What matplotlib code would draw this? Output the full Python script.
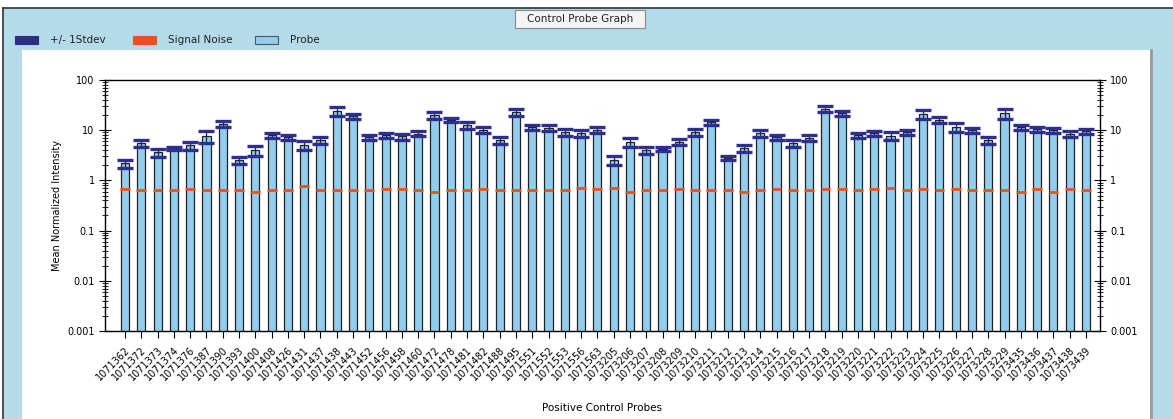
import matplotlib
matplotlib.use("Agg")
import matplotlib.pyplot as plt
import numpy as np
from matplotlib.patches import Rectangle
from matplotlib.lines import Line2D

probes = ["1071362", "1071372", "1071373", "1071374", "1071376", "1071387", "1071390", "1071393",
          "1071400", "1071408", "1071426", "1071431", "1071437", "1071438", "1071443", "1071452",
          "1071456", "1071458", "1071460", "1071472", "1071478", "1071481", "1071482", "1071488",
          "1071495", "1071551", "1071552", "1071553", "1071556", "1071563",
          "1073205", "1073206", "1073207", "1073208", "1073209", "1073210", "1073211", "1073212",
          "1073213", "1073214", "1073215", "1073216", "1073217", "1073218", "1073219", "1073220",
          "1073221", "1073222", "1073223", "1073224", "1073225", "1073226", "1073227", "1073228",
          "1073229", "1073435", "1073436", "1073437", "1073438", "1073439"]

probe_mean = [2.2, 5.5, 3.6, 4.4, 5.0, 7.5, 13.5, 2.5, 4.0, 7.9, 7.2, 5.0, 6.3, 24.0, 19.0, 7.2,
              7.9, 7.5, 8.5, 20.0, 16.0, 12.6, 10.0, 6.3, 23.0, 11.5, 11.0, 9.0, 8.7, 10.0,
              2.5, 5.8, 4.0, 4.2, 5.8, 9.1, 14.5, 2.8, 4.4, 8.7, 7.2, 5.5, 7.0, 27.0, 22.0, 8.0,
              8.7, 7.8, 9.0, 21.0, 16.0, 11.5, 10.0, 6.3, 22.0, 11.5, 10.5, 10.0, 8.5, 9.5]

probe_std = [0.4, 0.8, 0.7, 0.3, 0.9, 2.0, 1.8, 0.4, 0.9, 1.0, 0.9, 1.0, 1.0, 5.0, 2.5, 0.8,
             1.0, 1.0, 1.0, 3.5, 1.6, 2.0, 1.4, 1.0, 3.5, 1.2, 1.5, 1.4, 1.3, 1.4,
             0.5, 1.1, 0.6, 0.4, 0.8, 1.6, 1.6, 0.2, 0.7, 1.4, 0.7, 0.9, 0.9, 4.0, 2.5, 0.9,
             1.0, 1.3, 1.0, 4.0, 2.0, 2.3, 1.2, 1.1, 5.0, 1.4, 1.3, 1.3, 1.2, 1.1]

signal_noise = [0.67, 0.63, 0.63, 0.63, 0.68, 0.63, 0.63, 0.63, 0.58, 0.63, 0.63, 0.79, 0.63, 0.63,
                0.63, 0.63, 0.67, 0.67, 0.63, 0.58, 0.63, 0.63, 0.67, 0.63, 0.63, 0.63, 0.63, 0.63,
                0.70, 0.67, 0.70, 0.58, 0.63, 0.63, 0.67, 0.63, 0.63, 0.63, 0.58, 0.63, 0.67, 0.63,
                0.63, 0.67, 0.67, 0.63, 0.67, 0.70, 0.63, 0.67, 0.63, 0.67, 0.63, 0.63, 0.63, 0.58,
                0.67, 0.58, 0.67, 0.63]

W, H = 1173, 419
fig = plt.figure(figsize=(W / 100, H / 100), dpi=100)
fig.patch.set_facecolor("white")

def px(x0, y0, w, h):
    return (x0 / W, 1 - (y0 + h) / H, w / W, h / H)

lb = "#b3dbea"
x0, y0, w, h = px(3, 8, W - 3, H - 8)
fig.patches.append(Rectangle((x0, y0), w, h, transform=fig.transFigure, facecolor=lb, edgecolor="none", zorder=-10))
x0, y0, w, h = px(22, 50, 1128, H - 50)
fig.patches.append(Rectangle((x0, y0), w, h, transform=fig.transFigure, facecolor="white", edgecolor="none", zorder=-9))
fig.lines.append(Line2D([3 / W, 1], [1 - 8 / H, 1 - 8 / H], transform=fig.transFigure, color="#333333", lw=1.2, zorder=-8))
fig.lines.append(Line2D([3 / W, 3 / W], [0, 1 - 8 / H], transform=fig.transFigure, color="#333333", lw=1.2, zorder=-8))
fig.lines.append(Line2D([1151 / W, 1151 / W], [0, 1 - 50 / H], transform=fig.transFigure, color="#999999", lw=2, zorder=-8))

# title box
x0, y0, w, h = px(515, 10, 130, 18)
fig.patches.append(Rectangle((x0, y0), w, h, transform=fig.transFigure, facecolor="#f4f4f4", edgecolor="#888888", lw=0.8, zorder=1))
fig.text(580 / W, 1 - 19 / H, "Control Probe Graph", ha="center", va="center", fontsize=7.5, color="#222222")

# legend
leg = [("#2e2e80", "+/- 1Stdev", 15, 50), ("#e8501e", "Signal Noise", 133, 168), ("#92cdee", "Probe", 255, 290)]
for col, lab, rx, tx in leg:
    x0, y0, w, h = px(rx, 36, 23, 8)
    fig.patches.append(Rectangle((x0, y0), w, h, transform=fig.transFigure, facecolor=col,
                                 edgecolor="#555555" if lab == "Probe" else col, lw=0.8, zorder=2))
    fig.text(tx / W, 1 - 40 / H, lab, ha="left", va="center", fontsize=7.5, color="#222222")

ax = fig.add_axes([105 / W, 1 - 331 / H, (1100 - 105) / W, (331 - 80) / H])
ax.set_zorder(5)
x = np.arange(len(probes))
ax.bar(x, probe_mean, width=0.5, color="#92cdee", edgecolor="#222222", linewidth=0.9, zorder=2)
ax.hlines(signal_noise, x - 0.3, x + 0.3, colors="#e8501e", lw=2, zorder=3)
eb = ax.errorbar(x, probe_mean, yerr=probe_std, fmt="none", ecolor="#222244", elinewidth=0.9,
                 capsize=5.5, capthick=2.4, zorder=4)
for cap in eb[1]:
    cap.set_markeredgecolor("#2e2e90")
    cap.set_color("#2e2e90")

ax.set_yscale("log")
ax.set_ylim(0.001, 100)
ax.set_xlim(-1.23, 59.86)
ax.set_yticks([0.001, 0.01, 0.1, 1, 10, 100])
ax.set_yticklabels(["0.001", "0.01", "0.1", "1", "10", "100"], fontsize=7)
ax.tick_params(axis="y", which="both", right=True, labelright=True, direction="inout", length=8)
ax.tick_params(axis="y", which="minor", length=4)
ax.set_xticks(x)
ax.set_xticklabels(probes, rotation=45, ha="right", va="top", fontsize=7, rotation_mode="anchor")
ax.tick_params(axis="x", length=5, pad=5)
for s in ax.spines.values():
    s.set_linewidth(1.0)
ax.set_ylabel("Mean Normalized Intensity", fontsize=7)
ax.set_xlabel("Positive Control Probes", fontsize=7.5)
ax.xaxis.set_label_coords(0.5, -(408 - 331) / (331 - 80), transform=ax.transAxes)
ax.xaxis.label.set_va("center")
ax.set_facecolor("white")

fig.savefig("out.png", dpi=100)
